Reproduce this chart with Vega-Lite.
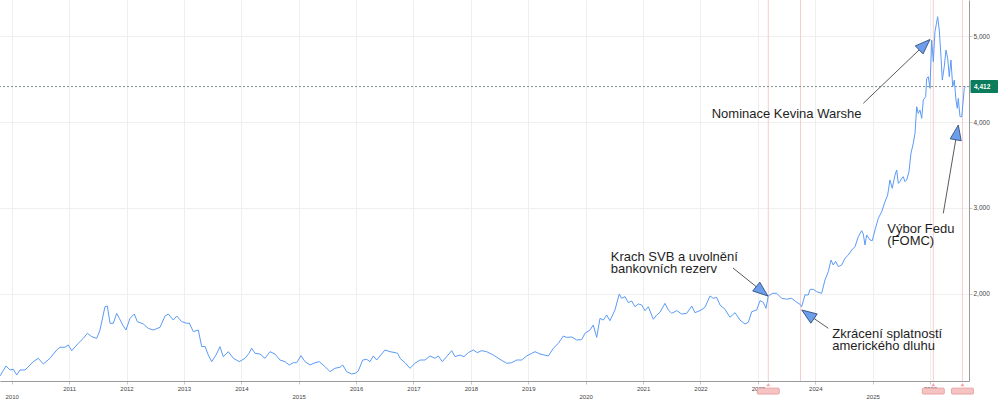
{
  "$schema": "https://vega.github.io/schema/vega-lite/v6.json",
  "width": 969,
  "height": 381,
  "autosize": {"type": "none"},
  "padding": {"left": 0, "top": 0, "right": 31, "bottom": 22},
  "background": "white",
  "config": {"view": {"stroke": null}, "font": "Liberation Sans"},
  "datasets": {
    "gold": [
      {"t": 2009.796, "v": 1047}, {"t": 2009.901, "v": 1163}, {"t": 2009.970, "v": 1116}, {"t": 2010.028, "v": 1124},
      {"t": 2010.087, "v": 1058}, {"t": 2010.145, "v": 1116}, {"t": 2010.232, "v": 1116}, {"t": 2010.319, "v": 1174},
      {"t": 2010.376, "v": 1213}, {"t": 2010.463, "v": 1252}, {"t": 2010.551, "v": 1186}, {"t": 2010.667, "v": 1252},
      {"t": 2010.784, "v": 1349}, {"t": 2010.841, "v": 1380}, {"t": 2010.929, "v": 1380}, {"t": 2010.986, "v": 1407},
      {"t": 2011.045, "v": 1341}, {"t": 2011.160, "v": 1426}, {"t": 2011.247, "v": 1484}, {"t": 2011.317, "v": 1543},
      {"t": 2011.394, "v": 1503}, {"t": 2011.481, "v": 1484}, {"t": 2011.538, "v": 1581}, {"t": 2011.625, "v": 1852},
      {"t": 2011.666, "v": 1860}, {"t": 2011.713, "v": 1659}, {"t": 2011.770, "v": 1659}, {"t": 2011.829, "v": 1775},
      {"t": 2011.875, "v": 1717}, {"t": 2011.934, "v": 1639}, {"t": 2011.991, "v": 1581}, {"t": 2012.061, "v": 1717},
      {"t": 2012.136, "v": 1767}, {"t": 2012.188, "v": 1678}, {"t": 2012.293, "v": 1651}, {"t": 2012.380, "v": 1600},
      {"t": 2012.467, "v": 1581}, {"t": 2012.584, "v": 1612}, {"t": 2012.671, "v": 1744}, {"t": 2012.728, "v": 1767},
      {"t": 2012.815, "v": 1697}, {"t": 2012.875, "v": 1744}, {"t": 2012.962, "v": 1678}, {"t": 2013.049, "v": 1659},
      {"t": 2013.094, "v": 1662}, {"t": 2013.164, "v": 1562}, {"t": 2013.251, "v": 1581}, {"t": 2013.310, "v": 1387},
      {"t": 2013.368, "v": 1390}, {"t": 2013.425, "v": 1290}, {"t": 2013.484, "v": 1213}, {"t": 2013.559, "v": 1290},
      {"t": 2013.629, "v": 1387}, {"t": 2013.686, "v": 1271}, {"t": 2013.774, "v": 1329}, {"t": 2013.861, "v": 1252},
      {"t": 2013.965, "v": 1213}, {"t": 2014.065, "v": 1252}, {"t": 2014.134, "v": 1310}, {"t": 2014.181, "v": 1368},
      {"t": 2014.239, "v": 1310}, {"t": 2014.326, "v": 1302}, {"t": 2014.413, "v": 1252}, {"t": 2014.500, "v": 1329},
      {"t": 2014.587, "v": 1302}, {"t": 2014.674, "v": 1232}, {"t": 2014.761, "v": 1213}, {"t": 2014.836, "v": 1174},
      {"t": 2014.906, "v": 1201}, {"t": 2014.965, "v": 1201}, {"t": 2015.040, "v": 1283}, {"t": 2015.110, "v": 1213},
      {"t": 2015.197, "v": 1174}, {"t": 2015.284, "v": 1201}, {"t": 2015.359, "v": 1213}, {"t": 2015.458, "v": 1155},
      {"t": 2015.545, "v": 1096}, {"t": 2015.632, "v": 1136}, {"t": 2015.719, "v": 1148}, {"t": 2015.767, "v": 1174},
      {"t": 2015.836, "v": 1096}, {"t": 2015.923, "v": 1070}, {"t": 2015.981, "v": 1077}, {"t": 2016.038, "v": 1104},
      {"t": 2016.115, "v": 1232}, {"t": 2016.185, "v": 1240}, {"t": 2016.242, "v": 1213}, {"t": 2016.300, "v": 1279},
      {"t": 2016.359, "v": 1232}, {"t": 2016.429, "v": 1290}, {"t": 2016.504, "v": 1349}, {"t": 2016.591, "v": 1329},
      {"t": 2016.678, "v": 1318}, {"t": 2016.725, "v": 1310}, {"t": 2016.765, "v": 1252}, {"t": 2016.852, "v": 1201},
      {"t": 2016.939, "v": 1136}, {"t": 2017.026, "v": 1194}, {"t": 2017.113, "v": 1232}, {"t": 2017.200, "v": 1232},
      {"t": 2017.288, "v": 1279}, {"t": 2017.375, "v": 1252}, {"t": 2017.432, "v": 1279}, {"t": 2017.502, "v": 1213},
      {"t": 2017.578, "v": 1271}, {"t": 2017.666, "v": 1341}, {"t": 2017.723, "v": 1271}, {"t": 2017.810, "v": 1290},
      {"t": 2017.880, "v": 1271}, {"t": 2017.955, "v": 1318}, {"t": 2018.042, "v": 1349}, {"t": 2018.111, "v": 1318},
      {"t": 2018.188, "v": 1341}, {"t": 2018.275, "v": 1329}, {"t": 2018.390, "v": 1290}, {"t": 2018.507, "v": 1240},
      {"t": 2018.624, "v": 1194}, {"t": 2018.711, "v": 1201}, {"t": 2018.798, "v": 1232}, {"t": 2018.885, "v": 1232},
      {"t": 2018.972, "v": 1279}, {"t": 2019.059, "v": 1310}, {"t": 2019.117, "v": 1329}, {"t": 2019.204, "v": 1302},
      {"t": 2019.348, "v": 1279}, {"t": 2019.436, "v": 1368}, {"t": 2019.523, "v": 1426}, {"t": 2019.610, "v": 1511},
      {"t": 2019.669, "v": 1495}, {"t": 2019.756, "v": 1500}, {"t": 2019.843, "v": 1465}, {"t": 2019.930, "v": 1470},
      {"t": 2019.988, "v": 1543}, {"t": 2020.075, "v": 1581}, {"t": 2020.132, "v": 1639}, {"t": 2020.192, "v": 1495},
      {"t": 2020.249, "v": 1717}, {"t": 2020.307, "v": 1697}, {"t": 2020.366, "v": 1755}, {"t": 2020.423, "v": 1689},
      {"t": 2020.510, "v": 1814}, {"t": 2020.585, "v": 2000}, {"t": 2020.627, "v": 1949}, {"t": 2020.685, "v": 1969},
      {"t": 2020.742, "v": 1899}, {"t": 2020.801, "v": 1919}, {"t": 2020.859, "v": 1852}, {"t": 2020.916, "v": 1884},
      {"t": 2020.976, "v": 1872}, {"t": 2021.033, "v": 1806}, {"t": 2021.091, "v": 1852}, {"t": 2021.178, "v": 1706},
      {"t": 2021.237, "v": 1755}, {"t": 2021.294, "v": 1787}, {"t": 2021.381, "v": 1891}, {"t": 2021.439, "v": 1814},
      {"t": 2021.498, "v": 1775}, {"t": 2021.585, "v": 1806}, {"t": 2021.672, "v": 1767}, {"t": 2021.760, "v": 1775},
      {"t": 2021.847, "v": 1860}, {"t": 2021.904, "v": 1783}, {"t": 2021.991, "v": 1806}, {"t": 2022.078, "v": 1845},
      {"t": 2022.166, "v": 1977}, {"t": 2022.223, "v": 1950}, {"t": 2022.282, "v": 1960}, {"t": 2022.340, "v": 1872},
      {"t": 2022.427, "v": 1822}, {"t": 2022.514, "v": 1729}, {"t": 2022.601, "v": 1783}, {"t": 2022.688, "v": 1697},
      {"t": 2022.775, "v": 1651}, {"t": 2022.833, "v": 1670}, {"t": 2022.892, "v": 1794}, {"t": 2022.979, "v": 1814},
      {"t": 2023.037, "v": 1922}, {"t": 2023.094, "v": 1903}, {"t": 2023.141, "v": 1833}, {"t": 2023.181, "v": 1977},
      {"t": 2023.258, "v": 2008}, {"t": 2023.328, "v": 2008}, {"t": 2023.415, "v": 1949}, {"t": 2023.502, "v": 1940},
      {"t": 2023.589, "v": 1949}, {"t": 2023.676, "v": 1905}, {"t": 2023.733, "v": 1880}, {"t": 2023.763, "v": 1852},
      {"t": 2023.821, "v": 1990}, {"t": 2023.878, "v": 1988}, {"t": 2023.908, "v": 2054}, {"t": 2023.965, "v": 2054},
      {"t": 2024.024, "v": 2027}, {"t": 2024.111, "v": 2008}, {"t": 2024.169, "v": 2163}, {"t": 2024.226, "v": 2260},
      {"t": 2024.274, "v": 2395}, {"t": 2024.314, "v": 2337}, {"t": 2024.355, "v": 2380}, {"t": 2024.401, "v": 2318},
      {"t": 2024.460, "v": 2337}, {"t": 2024.517, "v": 2415}, {"t": 2024.575, "v": 2453}, {"t": 2024.634, "v": 2511},
      {"t": 2024.692, "v": 2550}, {"t": 2024.749, "v": 2666}, {"t": 2024.808, "v": 2736}, {"t": 2024.836, "v": 2698},
      {"t": 2024.866, "v": 2570}, {"t": 2024.895, "v": 2686}, {"t": 2024.953, "v": 2628}, {"t": 2024.993, "v": 2620},
      {"t": 2025.040, "v": 2744}, {"t": 2025.098, "v": 2880}, {"t": 2025.157, "v": 2957}, {"t": 2025.214, "v": 3073},
      {"t": 2025.261, "v": 3151}, {"t": 2025.301, "v": 3326}, {"t": 2025.341, "v": 3229}, {"t": 2025.388, "v": 3380},
      {"t": 2025.418, "v": 3442}, {"t": 2025.446, "v": 3287}, {"t": 2025.476, "v": 3306}, {"t": 2025.502, "v": 3340},
      {"t": 2025.533, "v": 3364}, {"t": 2025.563, "v": 3306}, {"t": 2025.592, "v": 3326}, {"t": 2025.632, "v": 3422},
      {"t": 2025.667, "v": 3636}, {"t": 2025.707, "v": 3752}, {"t": 2025.737, "v": 3868}, {"t": 2025.767, "v": 4178},
      {"t": 2025.794, "v": 4100}, {"t": 2025.824, "v": 4140}, {"t": 2025.854, "v": 4043}, {"t": 2025.882, "v": 4256},
      {"t": 2025.923, "v": 4295}, {"t": 2025.941, "v": 4508}, {"t": 2025.969, "v": 4527}, {"t": 2025.998, "v": 4392},
      {"t": 2026.028, "v": 4953}, {"t": 2026.056, "v": 4701}, {"t": 2026.085, "v": 5050}, {"t": 2026.132, "v": 5225},
      {"t": 2026.160, "v": 5070}, {"t": 2026.190, "v": 4760}, {"t": 2026.213, "v": 4488}, {"t": 2026.247, "v": 4643},
      {"t": 2026.277, "v": 4837}, {"t": 2026.307, "v": 4740}, {"t": 2026.334, "v": 4527}, {"t": 2026.364, "v": 4721},
      {"t": 2026.394, "v": 4411}, {"t": 2026.422, "v": 4488}, {"t": 2026.451, "v": 4256}, {"t": 2026.474, "v": 4160},
      {"t": 2026.491, "v": 4275}, {"t": 2026.521, "v": 4062}, {"t": 2026.551, "v": 4062}, {"t": 2026.578, "v": 4256},
      {"t": 2026.596, "v": 4392}, {"t": 2026.620, "v": 4412}
    ],
    "events": [
      {"t": 2023.181, "flag": true},
      {"t": 2023.742, "flag": false},
      {"t": 2026.056, "flag": true},
      {"t": 2026.564, "flag": true}
    ],
    "arrows": [
      {"name": "warsh", "t": 2024.836, "v": 4217, "t2": 2025.904, "v2": 4899},
      {"name": "fomc", "t": 2026.230, "v": 2938, "t2": 2026.469, "v2": 3879},
      {"name": "svb", "t": 2022.566, "v": 2302, "t2": 2023.073, "v2": 2031},
      {"name": "debt", "t": 2024.227, "v": 1601, "t2": 2023.871, "v2": 1764}
    ],
    "notes": [
      {"text": ["Nominace Kevina Warshe"], "t": 2022.195, "v": 4043},
      {"text": ["Výbor Fedu", "(FOMC)"], "t": 2025.254, "v": 2713},
      {"text": ["Krach SVB a uvolnění", "bankovních rezerv"], "t": 2020.436, "v": 2384},
      {"text": ["Zkrácení splatností", "amerického dluhu"], "t": 2024.296, "v": 1492}
    ]
  },
  "layer": [
    {
      "data": {"name": "gold"},
      "mark": {"type": "line", "color": "#5b9bf7", "strokeWidth": 1, "opacity": 0},
      "encoding": {
        "x": {
          "field": "t", "type": "quantitative",
          "scale": {"domain": [2009.796, 2026.678], "nice": false, "zero": false},
          "axis": {
            "title": null,
            "values": [2010, 2011, 2012, 2013, 2014, 2015, 2016, 2017, 2018, 2019, 2020, 2021, 2022, 2023, 2024, 2025, 2026],
            "labelExpr": "format(datum.value, 'd')",
            "grid": true, "gridColor": "#efefef", "gridWidth": 1,
            "domainColor": "#9a9a9a", "tickColor": "#c8c8c8", "tickSize": 3,
            "labelFontSize": 6, "labelColor": "#444", "labelFont": "Liberation Sans",
            "labelPadding": {"condition": {"test": "datum.value % 5 === 0", "value": 9}, "value": 1.5}
          }
        },
        "y": {
          "field": "v", "type": "quantitative",
          "scale": {"domain": [988, 5419], "nice": false, "zero": false},
          "axis": {
            "title": null, "orient": "right",
            "values": [2000, 3000, 4000, 5000],
            "labelExpr": "format(datum.value, ',')",
            "grid": true, "gridColor": "#efefef", "gridWidth": 1,
            "domainColor": "#9a9a9a", "tickColor": "#c8c8c8", "tickSize": 3,
            "labelFontSize": 6.5, "labelColor": "#444", "labelPadding": 1, "labelFont": "Liberation Sans"
          }
        }
      }
    },
    {
      "data": {"name": "events"},
      "mark": {"type": "rule", "color": "#f8cccc", "strokeWidth": 1},
      "encoding": {
        "x": {"field": "t", "type": "quantitative", "title": null}
      }
    },
    {
      "data": {"values": [{}]},
      "mark": {"type": "rule", "color": "#7f928e", "strokeDash": [2, 2], "strokeWidth": 1},
      "encoding": {"y": {"datum": 4412, "type": "quantitative", "title": null}}
    },
    {
      "data": {"name": "gold"},
      "mark": {"type": "line", "color": "#5b9bf7", "strokeWidth": 1},
      "encoding": {
        "x": {"field": "t", "type": "quantitative", "title": null},
        "y": {"field": "v", "type": "quantitative", "title": null}
      }
    },
    {
      "data": {"name": "arrows"},
      "mark": {"type": "rule", "color": "#5a5a5a", "strokeWidth": 1},
      "encoding": {
        "x": {"field": "t", "type": "quantitative", "title": null},
        "y": {"field": "v", "type": "quantitative", "title": null},
        "x2": {"field": "t2"},
        "y2": {"field": "v2"}
      }
    },
    {
      "data": {"name": "arrows"},
      "transform": [{"filter": "datum.name === 'warsh'"}],
      "mark": {"type": "point", "shape": "M0,-1L0.75,1L-0.75,1Z", "size": 225, "angle": 46, "filled": true, "fill": "#6d9eeb", "stroke": "#2f4a78", "strokeWidth": 0.8, "opacity": 1},
      "encoding": {"x": {"field": "t2", "type": "quantitative", "title": null}, "y": {"field": "v2", "type": "quantitative", "title": null}}
    },
    {
      "data": {"name": "arrows"},
      "transform": [{"filter": "datum.name === 'fomc'"}],
      "mark": {"type": "point", "shape": "M0,-1L0.75,1L-0.75,1Z", "size": 225, "angle": 10, "filled": true, "fill": "#6d9eeb", "stroke": "#2f4a78", "strokeWidth": 0.8, "opacity": 1},
      "encoding": {"x": {"field": "t2", "type": "quantitative", "title": null}, "y": {"field": "v2", "type": "quantitative", "title": null}}
    },
    {
      "data": {"name": "arrows"},
      "transform": [{"filter": "datum.name === 'svb'"}],
      "mark": {"type": "point", "shape": "M0,-1L0.75,1L-0.75,1Z", "size": 225, "angle": 129, "filled": true, "fill": "#6d9eeb", "stroke": "#2f4a78", "strokeWidth": 0.8, "opacity": 1},
      "encoding": {"x": {"field": "t2", "type": "quantitative", "title": null}, "y": {"field": "v2", "type": "quantitative", "title": null}}
    },
    {
      "data": {"name": "arrows"},
      "transform": [{"filter": "datum.name === 'debt'"}],
      "mark": {"type": "point", "shape": "M0,-1L0.75,1L-0.75,1Z", "size": 225, "angle": 305, "filled": true, "fill": "#6d9eeb", "stroke": "#2f4a78", "strokeWidth": 0.8, "opacity": 1},
      "encoding": {"x": {"field": "t2", "type": "quantitative", "title": null}, "y": {"field": "v2", "type": "quantitative", "title": null}}
    },
    {
      "data": {"name": "notes"},
      "mark": {"type": "text", "align": "left", "baseline": "alphabetic", "fontSize": 13, "lineHeight": 12.5, "color": "#1e1e1e", "font": "Liberation Sans"},
      "encoding": {
        "x": {"field": "t", "type": "quantitative", "title": null},
        "y": {"field": "v", "type": "quantitative", "title": null},
        "text": {"field": "text"}
      }
    },
    {
      "data": {"name": "events"},
      "transform": [{"filter": "datum.flag"}],
      "mark": {"type": "rect", "color": "#f6c3c3", "stroke": "#e49595", "strokeWidth": 0.8, "cornerRadius": 1, "xOffset": -11, "x2Offset": 11},
      "encoding": {
        "x": {"field": "t", "type": "quantitative", "title": null},
        "x2": {"field": "t"},
        "y": {"datum": 905, "type": "quantitative", "title": null},
        "y2": {"datum": 836}
      }
    },
    {
      "data": {"name": "events"},
      "transform": [{"filter": "datum.flag"}],
      "mark": {"type": "point", "shape": "triangle-up", "size": 16, "filled": true, "color": "#f0a6a6", "opacity": 1},
      "encoding": {
        "x": {"field": "t", "type": "quantitative", "title": null},
        "y": {"datum": 946, "type": "quantitative", "title": null}
      }
    },
    {
      "data": {"values": [{"label": "4,412"}]},
      "mark": {"type": "rect", "color": "#0b7d5c", "cornerRadius": 1, "xOffset": 1.5, "x2Offset": 29, "yOffset": -6.5, "y2Offset": 6.5},
      "encoding": {
        "x": {"datum": 2026.678, "type": "quantitative", "title": null},
        "x2": {"datum": 2026.678},
        "y": {"datum": 4412, "type": "quantitative", "title": null},
        "y2": {"datum": 4412}
      }
    },
    {
      "data": {"values": [{"label": "4,412"}]},
      "mark": {"type": "text", "align": "left", "baseline": "middle", "dx": 5, "fontSize": 6.5, "fontWeight": "bold", "color": "white", "font": "Liberation Sans"},
      "encoding": {
        "x": {"datum": 2026.678, "type": "quantitative", "title": null},
        "y": {"datum": 4412, "type": "quantitative", "title": null},
        "text": {"field": "label"}
      }
    }
  ]
}
